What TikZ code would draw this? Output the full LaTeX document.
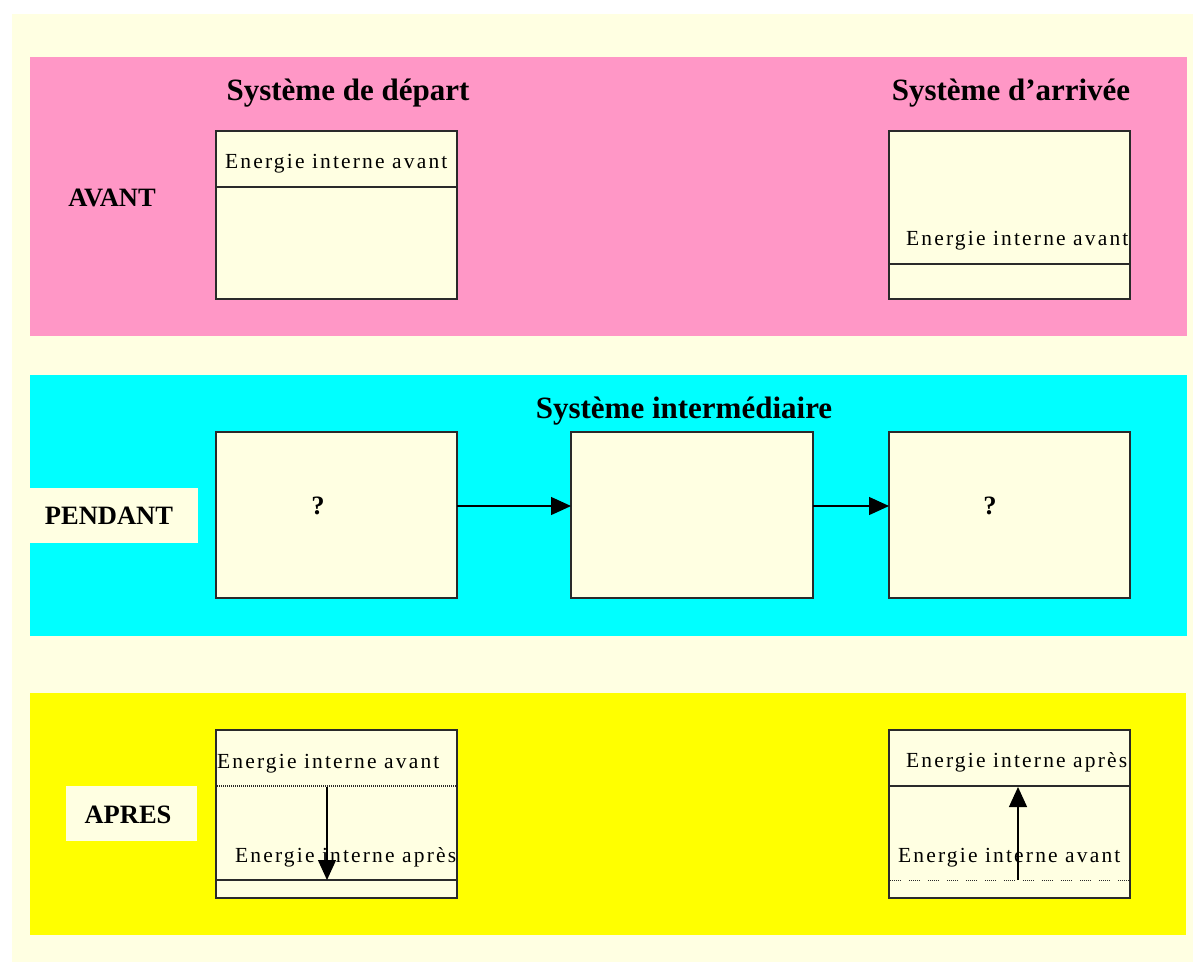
\documentclass[tikz,border=0pt]{standalone}
\usepackage{fontspec}
\setmainfont{Liberation Serif}
\newfontfamily\lsfont[LetterSpace=10]{Liberation Serif}
\usetikzlibrary{arrows.meta}
\definecolor{bgyel}{HTML}{FFFFE2}
\definecolor{pinkband}{HTML}{FF97C6}
\definecolor{cyanband}{HTML}{00FFFF}
\definecolor{yelband}{HTML}{FFFF00}
\definecolor{edge}{HTML}{2A2A2A}
\tikzset{
  sysbox/.style={draw=edge, line width=1.5pt, fill=bgyel, inner sep=0pt, outer sep=0pt, anchor=north west},
  labbox/.style={fill=bgyel, inner sep=0pt, outer sep=0pt, anchor=north west},
  etxt/.style={inner sep=0pt, anchor=base west, font=\lsfont\fontsize{21.5}{24}\selectfont},
  ttl/.style={inner sep=0pt, anchor=base, font=\bfseries\fontsize{31}{36}\selectfont},
  lab/.style={inner sep=0pt, anchor=base, font=\bfseries\fontsize{26.5}{30}\selectfont},
  divider/.style={draw=edge, line width=1.3pt},
  fine dots/.style={draw=edge, line width=1.2pt, dash pattern=on 1pt off 1pt},
  dash dots/.style={draw=edge, line width=1pt, dash pattern=on 1pt off 1pt on 1pt off 1pt on 1pt off 1pt on 1pt off 1pt on 1pt off 1pt on 1pt off 8pt},
  arr/.style={draw=black, line width=1.3pt, -{Triangle[length=20pt,width=18pt]}},
}
\begin{document}
\begin{tikzpicture}[x=1pt,y=-1pt]
\useasboundingbox (0,0) rectangle (1193,962);
\fill[white] (0,0) rectangle (1193,962);
\fill[bgyel] (12,14) rectangle (1193,962);
% bands
\fill[pinkband] (30,57) rectangle (1187,336);
\fill[cyanband] (30,375) rectangle (1187,636);
\fill[yelband] (30,693) rectangle (1186,935);
% side labels
\node[lab] (avant) at (112,206) {AVANT};
\node[labbox, minimum width=168, minimum height=55] (pendbox) at (30,488) {};
\node[lab] (pendant) at (109,524) {PENDANT};
\node[labbox, minimum width=131, minimum height=55] (apresbox) at (66,786) {};
\node[lab] (apres) at (128,823) {APRES};
% titles
\node[ttl] (tdep) at (348,100) {Système de départ};
\node[ttl] (tarr) at (1011,100) {Système d’arrivée};
\node[ttl] (tint) at (684,418) {Système intermédiaire};
% AVANT row
\node[sysbox, minimum width=241, minimum height=168] (A1) at (216,131) {};
\draw[divider] (216,187) coordinate (A1l) -- (457,187) coordinate (A1r);
\node[etxt] (A1t) at (225,168) {Energie interne avant};
\node[sysbox, minimum width=241, minimum height=168] (A2) at (889,131) {};
\draw[divider] (889,264) coordinate (A2l) -- (1130,264) coordinate (A2r);
\node[etxt] (A2t) at (906,245) {Energie interne avant};
% PENDANT row
\node[sysbox, minimum width=241, minimum height=166] (P1) at (216,432) {};
\node[sysbox, minimum width=242, minimum height=166] (P2) at (571,432) {};
\node[sysbox, minimum width=241, minimum height=166] (P3) at (889,432) {};
\node[lab] (q1) at (318,514) {?};
\node[lab] (q2) at (990,514) {?};
\draw[arr] ([yshift=9pt]P1.east) -- ([yshift=9pt]P2.west);
\draw[arr] ([yshift=9pt]P2.east) -- ([yshift=9pt]P3.west);
% APRES row
\node[sysbox, minimum width=241, minimum height=168] (B1) at (216,730) {};
\draw[fine dots] (217,786) coordinate (B1l) -- (456,786) coordinate (B1r);
\draw[divider] (216,880) coordinate (B1l2) -- (457,880) coordinate (B1r2);
\node[etxt] (B1t1) at (217,768) {Energie interne avant};
\node[etxt] (B1t2) at (235,862) {Energie interne après};
\coordinate (B1s) at (327,787);
\coordinate (B1e) at (327,880);
\draw[arr] (B1s) -- (B1e);
\node[sysbox, minimum width=241, minimum height=168] (B2) at (889,730) {};
\draw[divider] (889,786) coordinate (B2l) -- (1130,786) coordinate (B2r);
\draw[dash dots] (890,880) coordinate (B2l2) -- (1129,880) coordinate (B2r2);
\node[etxt] (B2t1) at (906,767) {Energie interne après};
\node[etxt] (B2t2) at (898,862) {Energie interne avant};
\coordinate (B2s) at (1018,880);
\coordinate (B2e) at (1018,787);
\draw[arr] (B2s) -- (B2e);
\end{tikzpicture}
\end{document}
